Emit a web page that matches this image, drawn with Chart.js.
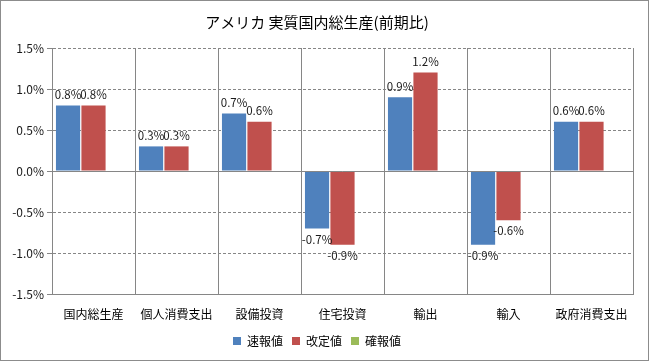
<!DOCTYPE html>
<html lang="ja">
<head>
  <meta charset="UTF-8" />
  <title>アメリカ 実質国内総生産(前期比)</title>
  <script src="https://cdn.jsdelivr.net/npm/chart.js"></script>
  <style>
    body {
      margin: 0;
      background: #fff;
    }
    .box {
      width: 647px;
      height: 359px;
      border: 1px solid #8c8c8c;
      position: relative;
    }
  </style>
</head>
<body>
  <div class="box"><canvas id="gdpChart"></canvas></div>

  <script>
    const categories = ['国内総生産', '個人消費支出', '設備投資', '住宅投資', '輸出', '輸入', '政府消費支出'];
    const prelim = [0.8, 0.3, 0.7, -0.7, 0.9, -0.9, 0.6];   // 速報値
    const revised = [0.8, 0.3, 0.6, -0.9, 1.2, -0.6, 0.6];  // 改定値
    const final = [null, null, null, null, null, null, null]; // 確報値 (not yet out)
    const yTicks = [-1.5, -1.0, -0.5, 0.0, 0.5, 1.0, 1.5];

    const jp = '"Noto Sans CJK JP", sans-serif';

    // percent labels above / below each bar, plus the solid zero line
    const barLabels = {
      id: 'barLabels',
      afterDatasetsDraw(chart) {
        const c = chart.ctx;
        const y = chart.scales.y;
        const area = chart.chartArea;
        c.save();
        c.strokeStyle = '#868686';
        c.lineWidth = 1;
        c.beginPath();
        const zy = Math.round(y.getPixelForValue(0)) + 0.5;
        c.moveTo(area.left, zy);
        c.lineTo(area.right, zy);
        c.stroke();

        c.font = '11.5px ' + jp;
        c.fillStyle = '#1a1a1a';
        c.textAlign = 'center';
        chart.data.datasets.forEach((ds, i) => {
          const meta = chart.getDatasetMeta(i);
          meta.data.forEach((bar, j) => {
            const v = ds.data[j];
            if (v === null) return;
            const txt = v.toFixed(1) + '%';
            if (v >= 0) {
              c.textBaseline = 'bottom';
              c.fillText(txt, bar.x, bar.y - 5);
            } else {
              c.textBaseline = 'top';
              c.fillText(txt, bar.x, bar.y + 5);
            }
          });
        });
        c.restore();
      }
    };

    new Chart(document.getElementById('gdpChart'), {
      type: 'bar',
      data: {
        labels: categories,
        datasets: [
          { label: '速報値', data: prelim, backgroundColor: '#4F81BD' },
          { label: '改定値', data: revised, backgroundColor: '#C0504D' },
          { label: '確報値', data: final, backgroundColor: '#9BBB59' }
        ]
      },
      options: {
        responsive: true,
        maintainAspectRatio: false,
        animation: false,
        datasets: {
          bar: { categoryPercentage: 0.92, barPercentage: 0.95 }
        },
        layout: { padding: { left: 0, right: 15, top: 0, bottom: 3 } },
        plugins: {
          title: {
            display: true,
            text: 'アメリカ 実質国内総生産(前期比)',
            color: '#000',
            font: { family: jp, size: 15, weight: 'normal' },
            padding: { top: 12, bottom: 17 }
          },
          legend: {
            position: 'bottom',
            labels: {
              color: '#000',
              font: { family: jp, size: 12 },
              boxWidth: 8,
              boxHeight: 8,
              padding: 9
            }
          },
          tooltip: { enabled: false }
        },
        scales: {
          x: {
            afterFit(scale) {
              scale.height = 32;
            },
            grid: { color: '#868686', drawTicks: false, offset: true },
            border: { color: '#868686' },
            ticks: {
              color: '#000',
              font: { family: jp, size: 12 },
              padding: 13,
              maxRotation: 0,
              autoSkip: false
            }
          },
          y: {
            min: -1.5,
            max: 1.5,
            afterBuildTicks(scale) {
              scale.ticks = yTicks.map(v => ({ value: v }));
            },
            afterFit(scale) {
              scale.width = 51;
            },
            grid: { color: '#868686', tickLength: 5 },
            border: { color: '#868686', dash: [3, 2] },
            ticks: {
              color: '#1a1a1a',
              font: { family: jp, size: 12 },
              padding: 3,
              callback: v => v.toFixed(1) + '%'
            }
          }
        }
      },
      plugins: [barLabels]
    });
  </script>
</body>
</html>
